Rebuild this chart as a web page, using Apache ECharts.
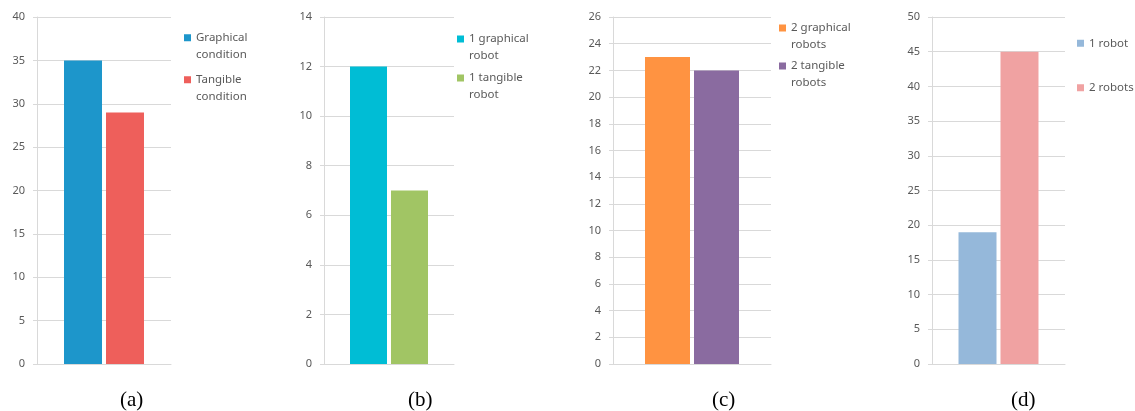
<!DOCTYPE html>
<html>
<head>
<meta charset="utf-8">
<script src="https://cdn.jsdelivr.net/npm/echarts@6/dist/echarts.min.js"></script>
<style>
html,body{margin:0;padding:0;background:#fff;}
#c{width:1135px;height:411px;}
</style>
</head>
<body>
<div id="c"></div>
<script>
// ---- data ----
const namesA = ['Graphical condition', 'Tangible condition'];
const valuesA = [35, 29];
const namesB = ['1 graphical robot', '1 tangible robot'];
const valuesB = [12, 7];
const namesC = ['2 graphical robots', '2 tangible robots'];
const valuesC = [23, 22];
const namesD = ['1 robot', '2 robots'];
const valuesD = [19, 45];
const legendLabelsA = ['Graphical\ncondition', 'Tangible\ncondition'];
const legendLabelsB = ['1 graphical\nrobot', '1 tangible\nrobot'];
const legendLabelsC = ['2 graphical\nrobots', '2 tangible\nrobots'];
const legendLabelsD = ['1 robot', '2 robots'];
const axisMax = [40, 14, 26, 50];
const axisStep = [5, 2, 2, 5];
const captions = ['(a)', '(b)', '(c)', '(d)'];

// ---- style/layout ----
const LH = 16.5;
const tallIcon = 'path://M0,0H7V7H0Z M0,23.5H0.01';
const panels = [
  {names: namesA, values: valuesA, labels: legendLabelsA, colors: ['#1D96CB', '#EE5F5B'],
   grid: {left: 37, width: 134}, barWidth: 38, legend: {left: 184, top: 29.5, gap: 9, two: true}, cap: 132},
  {names: namesB, values: valuesB, labels: legendLabelsB, colors: ['#00BDD5', '#A1C564'],
   grid: {left: 324, width: 130}, barWidth: 37, legend: {left: 457, top: 30.75, gap: 6, two: true}, cap: 420},
  {names: namesC, values: valuesC, labels: legendLabelsC, colors: ['#FF9341', '#8A6BA0'],
   grid: {left: 613, width: 158}, barWidth: 45, legend: {left: 779, top: 19.75, gap: 5, two: true}, cap: 724},
  {names: namesD, values: valuesD, labels: legendLabelsD, colors: ['#95B8DA', '#F0A2A2'],
   grid: {left: 932, width: 133}, barWidth: 38, legend: {left: 1077, top: 35, gap: 28, two: false}, cap: 1023}
];

const gridLine = '#D9D9D9';
const textCol = '#595959';
const font = 'Noto Sans';

const option = {
  animation: false,
  backgroundColor: '#fff',
  grid: [], xAxis: [], yAxis: [], series: [], legend: [], graphic: []
};

panels.forEach((p, i) => {
  option.grid.push({left: p.grid.left, width: p.grid.width, top: 17, height: 347, containLabel: false});
  option.xAxis.push({
    type: 'category', gridIndex: i, data: [''],
    axisLine: {show: true, lineStyle: {color: gridLine}},
    axisTick: {show: false}, axisLabel: {show: false}
  });
  option.yAxis.push({
    type: 'value', gridIndex: i, min: 0, max: axisMax[i], interval: axisStep[i],
    axisLine: {show: true, lineStyle: {color: gridLine}},
    axisTick: {show: true, length: 4, lineStyle: {color: gridLine}},
    axisLabel: {color: textCol, fontSize: 11, fontFamily: font, margin: 12},
    splitLine: {show: true, lineStyle: {color: gridLine}}
  });
  const lmap = {};
  p.names.forEach((n, k) => { lmap[n] = p.labels[k]; });
  p.names.forEach((n, k) => {
    option.series.push({
      type: 'bar', name: n, xAxisIndex: i, yAxisIndex: i,
      data: [p.values[k]],
      barWidth: p.barWidth, barGap: (4 / p.barWidth * 100).toFixed(1) + '%',
      itemStyle: {color: p.colors[k]}
    });
  });
  option.legend.push({
    data: p.names.map(n => ({name: n, icon: p.legend.two ? tallIcon : 'rect'})),
    orient: 'vertical', left: p.legend.left, top: p.legend.top, padding: 0,
    itemWidth: 7, itemHeight: p.legend.two ? 23.5 : 7, itemGap: p.legend.gap,
    formatter: n => lmap[n],
    textStyle: {color: textCol, fontSize: 11.5, fontFamily: font, lineHeight: LH}
  });
  option.graphic.push({
    type: 'text', left: p.cap - 12, top: 390,
    style: {text: captions[i], font: '21px "Liberation Serif"', fill: '#000', textAlign: 'left'}
  });
});

const chart = echarts.init(document.getElementById('c'), null, {renderer: 'canvas'});
chart.setOption(option);
</script>
</body>
</html>
